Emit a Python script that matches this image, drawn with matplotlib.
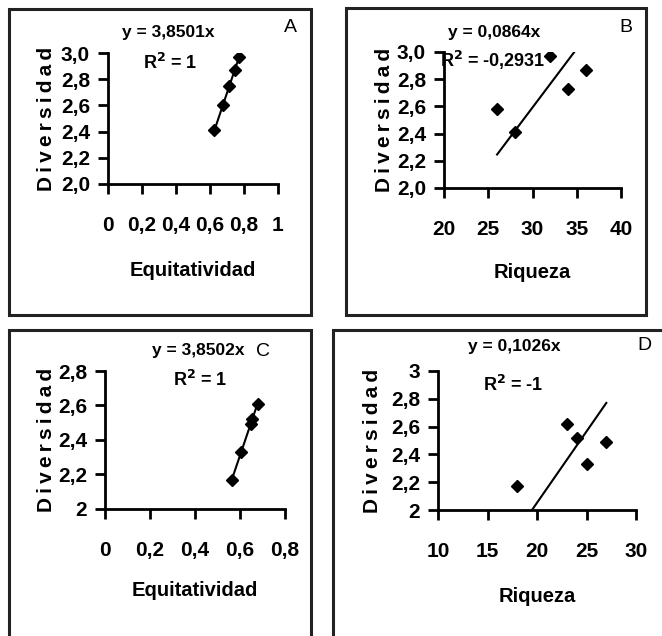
import matplotlib
matplotlib.use("Agg")
import matplotlib.pyplot as plt
from matplotlib.patches import Rectangle
from matplotlib.ticker import FuncFormatter

plt.rcParams['font.family'] = ['Liberation Sans', 'DejaVu Sans']
plt.rcParams['font.weight'] = 'bold'

# Datos de cada panel
equit_a = [0.626, 0.675, 0.714, 0.745, 0.771]
div_a = [2.41, 2.60, 2.75, 2.87, 2.97]
pend_a = 3.8501

riq_b = [26, 28, 32, 34, 36]
div_b = [2.58, 2.41, 2.97, 2.73, 2.87]
pend_b = 0.0864

equit_c = [0.564, 0.605, 0.647, 0.655, 0.678]
div_c = [2.17, 2.33, 2.49, 2.52, 2.61]
pend_c = 3.8502

riq_d = [18, 23, 24, 25, 27]
div_d = [2.17, 2.62, 2.52, 2.33, 2.49]
pend_d = 0.1026

W, H = 662, 636
fig = plt.figure(figsize=(W / 100, H / 100), dpi=100)


def fx(px):
    return px / W


def fy(py):
    return 1 - py / H


def coma(dec):
    def fmt(v, pos):
        if dec == 'auto':
            s = ('%.1f' % v).rstrip('0').rstrip('.')
        else:
            s = '%.*f' % (dec, v)
        return s.replace('.', ',')
    return FuncFormatter(fmt)


def panel(box, ax_px, x, y, pend, xlim, xticks, ylim, yticks, xdec, ydec,
          xlabel, eq, r2, letra, txt_pos, ylab_x, xlab_y):
    # marco del panel
    x0, y0, x1, y1 = box
    fig.patches.append(Rectangle((fx(x0), fy(y1)), fx(x1) - fx(x0), fy(y0) - fy(y1),
                                 transform=fig.transFigure, fill=False,
                                 edgecolor='#222222', linewidth=2.2))
    l, r, t, b = ax_px
    ax = fig.add_axes([fx(l), fy(b), fx(r) - fx(l), fy(t) - fy(b)])
    ax.plot(x, y, linestyle='none', marker='D', color='black', markersize=6)
    xs = [min(x), max(x)]
    ax.plot(xs, [pend * v for v in xs], color='black', linewidth=1.5)
    ax.set_xlim(xlim)
    ax.set_ylim(ylim)
    ax.set_xticks(xticks)
    ax.set_yticks(yticks)
    ax.xaxis.set_major_formatter(coma(xdec))
    ax.yaxis.set_major_formatter(coma(ydec))
    for s in ['top', 'right']:
        ax.spines[s].set_visible(False)
    for s in ['left', 'bottom']:
        ax.spines[s].set_linewidth(2)
    ax.tick_params(axis='both', direction='out', length=7, width=2, labelsize=15)
    ax.tick_params(axis='x', pad=16)
    ax.tick_params(axis='y', pad=6)
    ax.set_facecolor('none')
    ex, ey, rx, ry, lx, ly = txt_pos
    fig.text(fx(ex), fy(ey), eq, ha='center', va='center', fontsize=12.5)
    fig.text(fx(rx), fy(ry), r2, ha='center', va='center', fontsize=13)
    fig.text(fx(lx), fy(ly), letra, ha='center', va='center', fontsize=14,
             fontweight='normal')
    fig.text(fx(ylab_x), fy((t + b) / 2), '\u2009'.join('Diversidad'), rotation=90,
             ha='center', va='center', fontsize=15)
    fig.text(fx((l + r) / 2), fy(xlab_y), xlabel, ha='center', va='center',
             fontsize=14.5)
    return ax


panel((9, 9, 311, 315), (108, 278, 53, 184), equit_a, div_a, pend_a,
      (0, 1), [0, 0.2, 0.4, 0.6, 0.8, 1], (2.0, 3.0), [2.0, 2.2, 2.4, 2.6, 2.8, 3.0],
      'auto', 1, 'Equitatividad', 'y = 3,8501x', 'R$^2$ = 1', 'A',
      (168, 33, 170, 63, 290, 27), 46, 270)

panel((346, 8, 646, 315), (444, 621, 52, 188), riq_b, div_b, pend_b,
      (20, 40), [20, 25, 30, 35, 40], (2.0, 3.0), [2.0, 2.2, 2.4, 2.6, 2.8, 3.0],
      0, 1, 'Riqueza', 'y = 0,0864x', 'R$^2$ = -0,2931', 'B',
      (494, 33, 493, 60, 626, 27), 384, 272)

panel((9, 330, 311, 650), (105, 285, 371, 509), equit_c, div_c, pend_c,
      (0, 0.8), [0, 0.2, 0.4, 0.6, 0.8], (2.0, 2.8), [2.0, 2.2, 2.4, 2.6, 2.8],
      'auto', 'auto', 'Equitatividad', 'y = 3,8502x', 'R$^2$ = 1', 'C',
      (198, 351, 200, 380, 263, 351), 46, 591)

panel((333, 330, 680, 650), (438, 636, 371, 510), riq_d, div_d, pend_d,
      (10, 30), [10, 15, 20, 25, 30], (2.0, 3.0), [2.0, 2.2, 2.4, 2.6, 2.8, 3.0],
      0, 'auto', 'Riqueza', 'y = 0,1026x', 'R$^2$ = -1', 'D',
      (514, 346, 513, 385, 644, 346), 373, 596)

fig.savefig('out.png', dpi=100)
